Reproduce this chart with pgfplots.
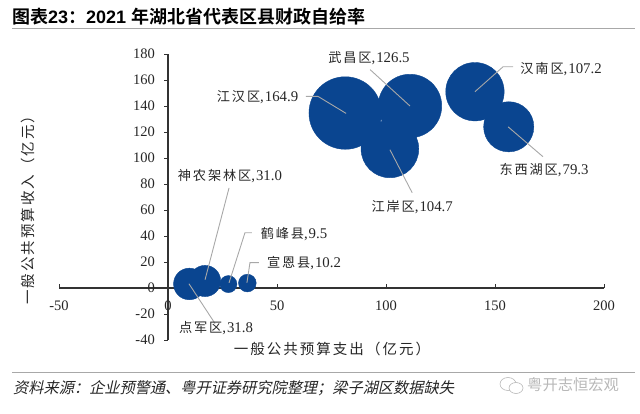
\documentclass[border=0pt]{standalone}
\usepackage{fontspec}
\usepackage{pgfplots}
\pgfplotsset{compat=1.18}
\setmainfont{Liberation Serif}
\newfontfamily\cjk[LetterSpace=14]{Noto Sans CJK SC}
\newfontfamily\cjkb[BoldFont={Noto Sans CJK SC Bold}]{Noto Sans CJK SC}
\newfontfamily\cjkplain{Noto Sans CJK SC}
\newfontfamily\cjki[FakeSlant=0.22]{Noto Sans CJK SC}
\newfontfamily\headnum{Liberation Sans}
\definecolor{bub}{HTML}{0A4590}
\definecolor{lead}{HTML}{A8A8A8}
\definecolor{txt}{HTML}{262626}
\newcommand{\lab}[2]{{\fontsize{13.2}{14}\selectfont\cjk #1\fontsize{14.8}{14}\selectfont\rmfamily ,\kern1pt#2}}
\pgfplotstableread{
x y v
81.3 134.6 164.9
111.0 140.0 126.5
101.8 107.0 104.7
140.8 151.0 107.2
156.3 124.0 79.3
9.8 3.1 31.8
17.0 5.4 31.0
27.7 3.0 9.5
36.4 3.8 10.2
}\bubbles
\begin{document}
\begin{tikzpicture}[x=1pt,y=1pt]
\path (0,0) rectangle (640,413);
\node[anchor=west,inner sep=0,text=black] at (12,396) {\fontsize{18}{20}\selectfont\bfseries\cjkb 图表\headnum\bfseries 23\cjkb ：\headnum\bfseries 2021 \cjkb 年湖北省代表区县财政自给率};
\draw[color=lead,line width=0.8pt] (12,384.2) -- (635,384.2);
\draw[color=lead,line width=0.8pt] (12,40.5) -- (635,40.5);
\node[anchor=west,inner sep=0,text=txt] at (13,24.5) {\fontsize{15.2}{18}\selectfont\cjki 资料来源：企业预警通、粤开证券研究院整理；梁子湖区数据缺失};
\node[anchor=west,inner sep=0,text=black!28] at (527,28) {\fontsize{15.3}{18}\selectfont\cjkplain 粤开志恒宏观};
\draw[black!28,line width=0.6pt] (508,29) ellipse (8 and 6.5);
\draw[black!28,line width=0.6pt,fill=white] (516,25) ellipse (7 and 5.5);
\begin{axis}[
  at={(59pt,73pt)},anchor=south west,
  scale only axis,width=545pt,height=286pt,
  xmin=-50,xmax=200,ymin=-40,ymax=180,
  clip=false,clip mode=individual,
  axis x line=middle,axis y line=middle,
  axis line style={-,color=black!80,line width=1.3pt},
  hide obscured x ticks=false,hide obscured y ticks=false,
  xtick={-50,0,50,100,150,200},
  ytick={-40,-20,0,20,40,60,80,100,120,140,160,180},
  xtick align=inside,ytick align=outside,
  major tick length=4pt,
  tick style={color=black!80,line width=0.8pt},
  every x tick label/.append style={inner sep=0pt,anchor=center,yshift=-18pt},
  every y tick label/.append style={xshift=-7pt,inner sep=2pt},
  tick label style={font=\fontsize{14.5}{16}\selectfont,text=txt},
  /pgf/number format/assume math mode=true,
  /pgf/number format/.cd,1000 sep={},
]
\addplot[scatter,only marks,mark=*,
  scatter/use mapped color={draw=bub,fill=bub},
  mark options={draw=bub,fill=bub,line width=0.4pt},
  visualization depends on={2.84*sqrt(\thisrow{v})-0.2 \as \rr},
  scatter/@pre marker code/.append style={/tikz/mark size=\rr pt},
  ] table[x=x,y=y] {\bubbles};
\addplot[lead,line width=0.9pt,no marks] coordinates {(92.7,168) (111,140)};
\addplot[lead,line width=0.9pt,no marks] coordinates {(158.3,170.2) (153.7,170.2) (140.8,151)};
\addplot[lead,line width=0.9pt,no marks] coordinates {(63.3,147.4) (68.8,147.4) (81.7,134.3)};
\addplot[lead,line width=0.9pt,no marks] coordinates {(172,101) (156,124)};
\addplot[lead,line width=0.9pt,no marks] coordinates {(112,73.3) (101.8,106.4)};
\addplot[lead,line width=0.9pt,no marks] coordinates {(28,77) (17,6.4)};
\addplot[lead,line width=0.9pt,no marks] coordinates {(38.5,42.5) (35.3,42.5) (28,4)};
\addplot[lead,line width=0.9pt,no marks] coordinates {(41.7,19.5) (37.6,19.5) (36.2,4)};
\addplot[lead,line width=0.9pt,no marks] coordinates {(21.6,-27.4) (9.6,3.3)};
\node[text=txt,inner sep=0] at (axis cs:92.2,177.2) {\lab{武昌区}{126.5}};
\node[text=txt,inner sep=0] at (axis cs:180.3,168.7) {\lab{汉南区}{107.2}};
\node[text=txt,inner sep=0] at (axis cs:41.1,146.8) {\lab{江汉区}{164.9}};
\node[text=txt,inner sep=0] at (axis cs:172.5,91) {\lab{东西湖区}{79.3}};
\node[text=txt,inner sep=0] at (axis cs:112,62.5) {\lab{江岸区}{104.7}};
\node[text=txt,inner sep=0] at (axis cs:28.4,86.4) {\lab{神农架林区}{31.0}};
\node[text=txt,inner sep=0] at (axis cs:57.8,41.8) {\lab{鹤峰县}{9.5}};
\node[text=txt,inner sep=0] at (axis cs:62.4,19.5) {\lab{宣恩县}{10.2}};
\node[text=txt,inner sep=0] at (axis cs:22,-30.5) {\lab{点军区}{31.8}};
\node[text=txt,inner sep=0] at (axis cs:75.2,-47.2) {\fontsize{14.5}{16}\selectfont\cjk 一般公共预算支出（亿元）};
\node[text=txt,inner sep=0,rotate=90] at (axis cs:-64,62.5) {\fontsize{14.5}{16}\selectfont\cjk 一般公共预算收入（亿元）};
\end{axis}
\end{tikzpicture}
\end{document}
